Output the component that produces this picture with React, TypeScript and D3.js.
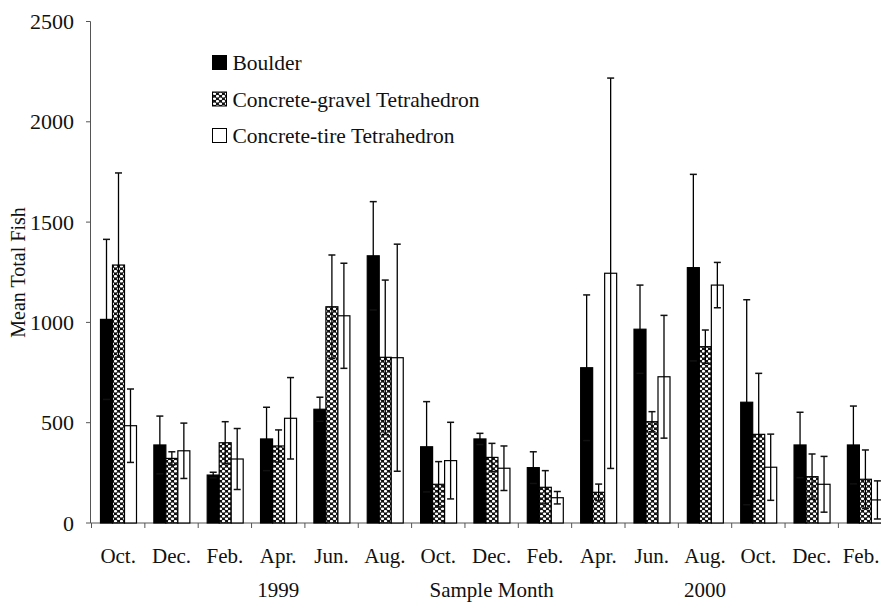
import React from "react";
import * as d3 from "d3";

const months = ["Oct.", "Dec.", "Feb.", "Apr.", "Jun.", "Aug.", "Oct.", "Dec.", "Feb.", "Apr.", "Jun.", "Aug.", "Oct.", "Dec.", "Feb."];
const seriesNames = ["Boulder", "Concrete-gravel Tetrahedron", "Concrete-tire Tetrahedron"];
const boulder = [1015, 389, 239, 419, 567, 1332, 380, 419, 276, 774, 966, 1273, 602, 389, 389];
const boulderErr = [399, 144, 14, 158, 60, 270, 225, 28, 79, 363, 220, 465, 511, 163, 194];
const gravel = [1286, 322, 400, 384, 1078, 826, 193, 327, 178, 153, 505, 879, 442, 231, 218];
const gravelErr = [459, 33, 105, 80, 258, 385, 113, 70, 83, 41, 50, 83, 304, 113, 146];
const tire = [485, 360, 319, 522, 1033, 824, 311, 273, 126, 1245, 729, 1186, 278, 193, 115];
const tireErr = [183, 138, 152, 203, 262, 566, 191, 111, 31, 973, 306, 113, 165, 139, 95];
const yTicks = [0, 500, 1000, 1500, 2000, 2500];
const yearLabels = ["1999", "Sample Month", "2000"];
const yearAnchors = [3, 7, 11];
const yLabel = "Mean Total Fish";

const W = 881;
const H = 602;
const FONT = "'Liberation Serif', 'Times New Roman', serif";

export default function App() {
  const x0 = 91.5;
  const step = 53.35;
  const x = d3.scaleBand<number>().domain(d3.range(months.length)).range([x0, x0 + step * months.length]).padding(0);
  const y = d3.scaleLinear().domain([0, 2500]).range([523, 21.5]);
  const barW = 12;
  const barOff = 9;
  const fills = ["#000", "url(#gravelPat)", "#fff"];
  const series = [
    { vals: boulder, errs: boulderErr },
    { vals: gravel, errs: gravelErr },
    { vals: tire, errs: tireErr },
  ];
  const axisColor = "#555";
  const capW = 7;

  return (
    <svg width={W} height={H} style={{ position: "absolute", left: 0, top: 0, background: "#fff" }} fontFamily={FONT}>
      <defs>
        <pattern id="gravelPat" width={6} height={5} patternUnits="userSpaceOnUse">
          <rect width={6} height={5} fill="#111" />
          <ellipse cx={1.5} cy={1.2} rx={1.7} ry={1.25} fill="#fff" />
          <ellipse cx={4.5} cy={3.7} rx={1.7} ry={1.25} fill="#fff" />
        </pattern>
      </defs>

      {/* y axis */}
      <line x1={90.5} x2={90.5} y1={y(2500)} y2={y(0)} stroke={axisColor} strokeWidth={1} />
      {yTicks.map((t) => (
        <g key={t}>
          <line x1={86} x2={90.5} y1={y(t)} y2={y(t)} stroke={axisColor} strokeWidth={1} />
          <text x={74} y={y(t) + 7.5} textAnchor="end" fontSize={22} fill="#111">{t}</text>
        </g>
      ))}
      <text transform={`translate(25,272.5) rotate(-90)`} textAnchor="middle" fontSize={20} fill="#111">{yLabel}</text>

      {/* x axis */}
      <line x1={90.5} x2={W} y1={y(0)} y2={y(0)} stroke={axisColor} strokeWidth={1} />
      {months.map((m, i) => (
        <g key={i}>
          <line x1={(x(i) as number)} x2={(x(i) as number)} y1={y(0)} y2={y(0) + 5} stroke={axisColor} strokeWidth={1} />
          <text x={Math.min((x(i) as number) + x.bandwidth() / 2, 861)} y={563} textAnchor="middle" fontSize={21} fill="#111">{m}</text>
        </g>
      ))}
      {yearLabels.map((t, k) => (
        <text key={t} x={(x(yearAnchors[k]) as number) + x.bandwidth() / 2} y={597} textAnchor="middle" fontSize={21} fill="#111">{t}</text>
      ))}

      {/* bars */}
      {series.map((s, si) =>
        s.vals.map((v, i) => {
          const bx = (x(i) as number) + barOff + si * barW;
          const cx = bx + barW / 2;
          const e = s.errs[i];
          return (
            <g key={`${si}-${i}`}>
              <rect x={bx} y={y(v)} width={barW} height={y(0) - y(v)} fill={fills[si]} stroke="#000" strokeWidth={1.2} />
              <line x1={cx} x2={cx} y1={y(v + e)} y2={y(Math.max(0, v - e))} stroke="#000" strokeWidth={1.3} />
              <line x1={cx - capW / 2} x2={cx + capW / 2} y1={y(v + e)} y2={y(v + e)} stroke="#111" strokeWidth={1.5} />
              {v - e > 0 && (
                <line x1={cx - capW / 2} x2={cx + capW / 2} y1={y(v - e)} y2={y(v - e)} stroke="#111" strokeWidth={1.5} />
              )}
            </g>
          );
        })
      )}

      {/* legend */}
      {seriesNames.map((n, i) => {
        const base = 70 + i * 36.5;
        return (
          <g key={n}>
            <rect x={212.5} y={base - 14.5} width={14} height={14} fill={fills[i]} stroke="#000" strokeWidth={1} />
            <text x={232.5} y={base} fontSize={21.5} fill="#111">{n}</text>
          </g>
        );
      })}
    </svg>
  );
}
